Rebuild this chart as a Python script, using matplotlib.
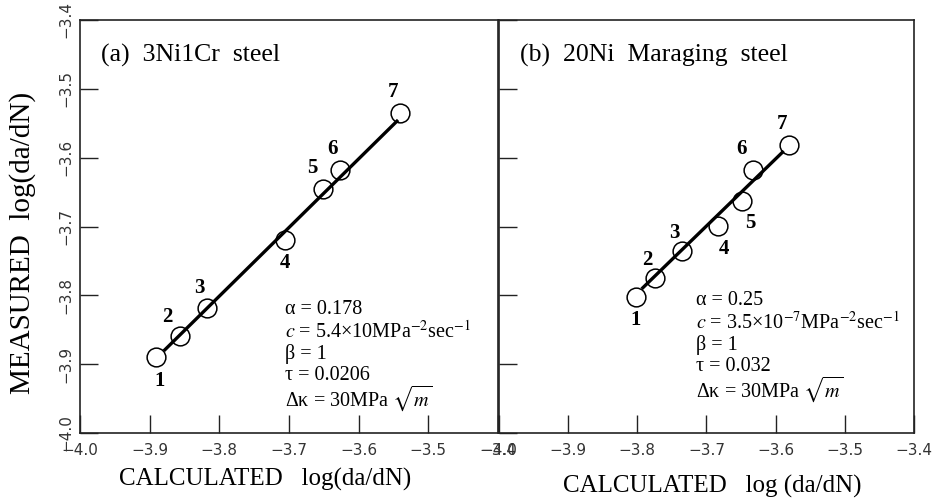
import matplotlib
matplotlib.use("Agg")
import matplotlib.pyplot as plt

plt.rcParams['font.family'] = ['Liberation Serif', 'DejaVu Serif']
plt.rcParams['mathtext.fontset'] = 'stix'

# (a) 3Ni1Cr steel
calc_a = [-3.891, -3.856, -3.818, -3.706, -3.651, -3.627, -3.541]
meas_a = [-3.890, -3.859, -3.818, -3.719, -3.645, -3.618, -3.535]
fit_a_x = [-3.878, -3.545]
fit_a_y = [-3.879, -3.547]

# (b) 20Ni Maraging steel
calc_b = [-3.802, -3.774, -3.735, -3.683, -3.649, -3.633, -3.581]
meas_b = [-3.802, -3.775, -3.735, -3.699, -3.663, -3.618, -3.581]
fit_b_x = [-3.792, -3.590]
fit_b_y = [-3.789, -3.592]

nums = ['1', '2', '3', '4', '5', '6', '7']
# label offsets in points (dx, dy) from each circle
offs_a = [(3, -17), (-9, 14), (-5, 14), (0, -17), (-8, 15), (-5, 15), (-5, 15)]
offs_b = [(0, -17), (-6, 13), (-6, 13), (4, -17), (6, -16), (-8, 15), (-5, 15)]

ticks = [-4.0, -3.9, -3.8, -3.7, -3.6, -3.5, -3.4]
tick_labels = ['−4.0', '−3.9', '−3.8', '−3.7', '−3.6', '−3.5', '−3.4']

params_a = ['α = 0.178',
            r'$c$ = 5.4×10MPa$^{\mathrm{-2}}$sec$^{\mathrm{-1}}$',
            'β = 1',
            'τ = 0.0206',
            r'Δκ = 30MPa $\sqrt{m}$']
params_b = ['α = 0.25',
            r'$c$ = 3.5×10$^{\mathrm{-7}}$MPa$^{\mathrm{-2}}$sec$^{\mathrm{-1}}$',
            'β = 1',
            'τ = 0.032',
            r'Δκ = 30MPa $\sqrt{m}$']

fig = plt.figure(figsize=(9.33, 5.01), dpi=100)
ax1 = fig.add_axes([0.0857, 0.1357, 0.448, 0.8244])
ax2 = fig.add_axes([0.5348, 0.1357, 0.4448, 0.8244])


def panel(ax, cx, my, fx, fy, offs, title, params, px, py, show_y):
    ax.plot(cx, my, 'o', ms=13.5, mfc='white', mec='black', mew=1.1, zorder=2)
    ax.plot(fx, fy, '-', color='black', lw=2.4, zorder=3)
    for x, y, n, (dx, dy) in zip(cx, my, nums, offs):
        ax.annotate(n, (x, y), xytext=(dx, dy), textcoords='offset points',
                    ha='center', va='center', fontsize=15, fontweight='bold')
    ax.set_xlim(-4.0, -3.4)
    ax.set_ylim(-4.0, -3.4)
    ax.set_xticks(ticks)
    ax.set_xticklabels(tick_labels, family='DejaVu Sans', fontsize=11, color='#333333')
    ax.set_yticks(ticks)
    if show_y:
        ax.set_yticklabels(tick_labels, family='DejaVu Sans', fontsize=11,
                           color='#333333', rotation=90, va='center')
    else:
        ax.set_yticklabels([])
    ax.tick_params(direction='in', length=13, width=1.0, color='#222222')
    ax.tick_params(axis='x', pad=7)
    ax.tick_params(axis='y', pad=5)
    for s in ax.spines.values():
        s.set_linewidth(1.2)
        s.set_color('#222222')
    ax.text(0.05, 0.915, title, transform=ax.transAxes, fontsize=18.5, va='center')
    for i, p in enumerate(params):
        ax.text(px, py - i * 0.032, p, fontsize=14.5, va='center')


panel(ax1, calc_a, meas_a, fit_a_x, fit_a_y, offs_a, '(a)  3Ni1Cr  steel',
      params_a, -3.705, -3.821, True)
panel(ax2, calc_b, meas_b, fit_b_x, fit_b_y, offs_b, '(b)  20Ni  Maraging  steel',
      params_b, -3.715, -3.808, False)

ax1.set_xlabel('CALCULATED   log(da/dN)', fontsize=18)
ax1.xaxis.set_label_coords(0.443, -0.085)
ax2.set_xlabel('CALCULATED   log (da/dN)', fontsize=18)
ax2.xaxis.set_label_coords(0.514, -0.102)
ax1.set_ylabel('MEASURED  log(da/dN)', fontsize=21)
ax1.yaxis.set_label_coords(-0.105, 0.46)

fig.savefig('out.png', dpi=100)
